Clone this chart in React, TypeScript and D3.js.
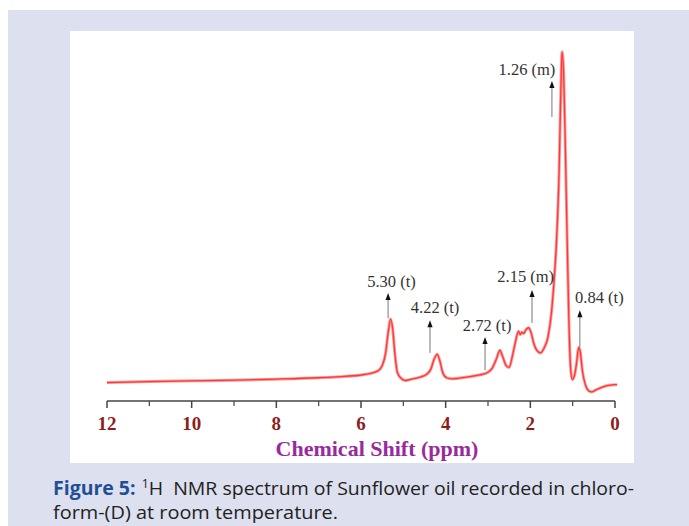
import React from "react";
import { scaleLinear, line, curveMonotoneX, range } from "d3";

// spectrum (ppm, relative intensity)
const ppm = [
  12.0, 11.0, 10.0, 9.0, 8.0, 7.0, 6.5, 6.0, 5.8, 5.6, 5.5, 5.42, 5.36, 5.3, 5.25,
  5.2, 5.14, 5.05, 4.95, 4.8, 4.6, 4.45, 4.35, 4.27, 4.2, 4.14, 4.07, 3.98, 3.85,
  3.5, 3.2, 3.0, 2.9, 2.8, 2.72, 2.65, 2.57, 2.5, 2.42, 2.35, 2.28, 2.24, 2.2,
  2.16, 2.1, 2.04, 1.98, 1.92, 1.85, 1.76, 1.68, 1.58, 1.5, 1.44, 1.38, 1.32,
  1.28, 1.25, 1.21, 1.17, 1.13, 1.09, 1.05, 1.01, 0.95, 0.9, 0.86, 0.82, 0.77,
  0.7, 0.62, 0.55, 0.45, 0.3, 0.15, 0.0, -0.05,
];
const intensity = [
  3.6, 3.9, 4.1, 4.3, 4.6, 5.0, 5.3, 5.8, 6.2, 7.0, 8.5, 12.0, 18.0, 22.0, 19.0,
  12.0, 6.5, 4.8, 4.2, 4.6, 5.2, 6.0, 7.5, 10.5, 11.8, 10.0, 6.5, 5.0, 4.7,
  5.2, 5.8, 6.6, 7.8, 10.5, 13.0, 11.0, 8.5, 8.0, 11.5, 15.5, 18.5, 17.5, 18.2,
  17.8, 19.0, 19.5, 18.0, 15.0, 13.0, 12.2, 13.5, 17.0, 24.0, 33.0, 45.0, 65.0,
  88.0, 99.5, 92.0, 70.0, 45.0, 22.0, 8.0, 4.5, 6.0, 10.0, 13.8, 12.5, 7.0,
  3.0, 1.2, 0.9, 1.5, 2.3, 2.8, 3.0, 3.0,
];

// peak labels
const peakLabels = ["1.26 (m)", "5.30 (t)", "4.22 (t)", "2.72 (t)", "2.15 (m)", "0.84 (t)"];
const arrowPpm = [1.49, 5.36, 4.37, 3.07, 1.96, 0.83];
const arrowTip = [91.0, 29.6, 21.7, 16.8, 30.4, 24.6];
const arrowBase = [80.6, 22.3, 12.2, 7.2, 20.9, 13.9];
const labelPpm = [2.08, 5.28, 4.25, 3.02, 2.11, 0.37];
const labelLevel = [92.8, 31.3, 23.8, 18.6, 32.8, 26.7];

const majorTicks = [12, 10, 8, 6, 4, 2, 0];
const minorTicks = [11, 9, 7, 5, 3, 1];

export default function App() {
  const x = scaleLinear().domain([12, 0]).range([107, 615]);
  const y = scaleLinear().domain([0, 100]).range([395, 50]);
  const axisY = 401;

  const pts = ppm.map((p, i) => [p, intensity[i]] as [number, number]);
  const path = line<[number, number]>()
    .x((d) => x(d[0]))
    .y((d) => y(d[1]))
    .curve(curveMonotoneX)(pts) as string;

  const serif = "'Liberation Serif', 'Times New Roman', serif";
  const sans = "'Open Sans', sans-serif";

  return (
    <svg
      width={689}
      height={526}
      style={{ position: "absolute", left: 0, top: 0 }}
    >
      <rect x={0} y={0} width={689} height={526} fill="#fff" />
      <rect x={8} y={10} width={681} height={516} fill="#dde0ee" />
      <rect x={70} y={31} width={564} height={432} fill="#fff" />

      <path d={path} fill="none" stroke="#ff9a9a" strokeWidth={3} />
      <path d={path} fill="none" stroke="#ff3838" strokeWidth={1.3} />

      {/* axis */}
      <line x1={x(12)} x2={x(0)} y1={axisY} y2={axisY} stroke="#444" strokeWidth={1.5} />
      {majorTicks.map((t) => (
        <line key={"M" + t} x1={x(t)} x2={x(t)} y1={axisY} y2={axisY + 7} stroke="#444" strokeWidth={1.5} />
      ))}
      {minorTicks.map((t) => (
        <line key={"m" + t} x1={x(t)} x2={x(t)} y1={axisY} y2={axisY + 5} stroke="#444" strokeWidth={1.2} />
      ))}
      {majorTicks.map((t) => (
        <text
          key={"l" + t}
          x={x(t)}
          y={430}
          textAnchor="middle"
          fontFamily={serif}
          fontWeight="bold"
          fontSize={19}
          fill="#8b1d1d"
        >
          {t}
        </text>
      ))}
      <text
        x={377}
        y={456}
        textAnchor="middle"
        fontFamily={serif}
        fontWeight="bold"
        fontSize={22}
        fill="#992a9c"
      >
        Chemical Shift (ppm)
      </text>

      {/* peak annotations */}
      {range(peakLabels.length).map((i) => {
        const ax = x(arrowPpm[i]);
        const tip = y(arrowTip[i]);
        return (
          <g key={peakLabels[i]}>
            <line x1={ax} x2={ax} y1={tip + 5} y2={y(arrowBase[i])} stroke="#777" strokeWidth={1} />
            <path d={`M${ax},${tip} L${ax - 2.6},${tip + 7} L${ax + 2.6},${tip + 7} Z`} fill="#111" />
            <text
              x={x(labelPpm[i])}
              y={y(labelLevel[i])}
              textAnchor="middle"
              fontFamily={serif}
              fontSize={16.5}
              fill="#333"
            >
              {peakLabels[i]}
            </text>
          </g>
        );
      })}

      {/* caption */}
      <text x={53} y={495} fontFamily={sans} fontSize={19} fill="#222" textLength={581} lengthAdjust="spacingAndGlyphs">
        <tspan fontWeight="bold" fill="#1f4f97">Figure 5:</tspan>
        <tspan dx={6} fontSize={12} dy={-7}>1</tspan>
        <tspan dy={7}>{"H\u00a0\u00a0NMR spectrum of Sunflower oil recorded in chloro-"}</tspan>
      </text>
      <text x={53} y={519} fontFamily={sans} fontSize={19} fill="#222" textLength={285} lengthAdjust="spacingAndGlyphs">
        form-(D) at room temperature.
      </text>
    </svg>
  );
}
